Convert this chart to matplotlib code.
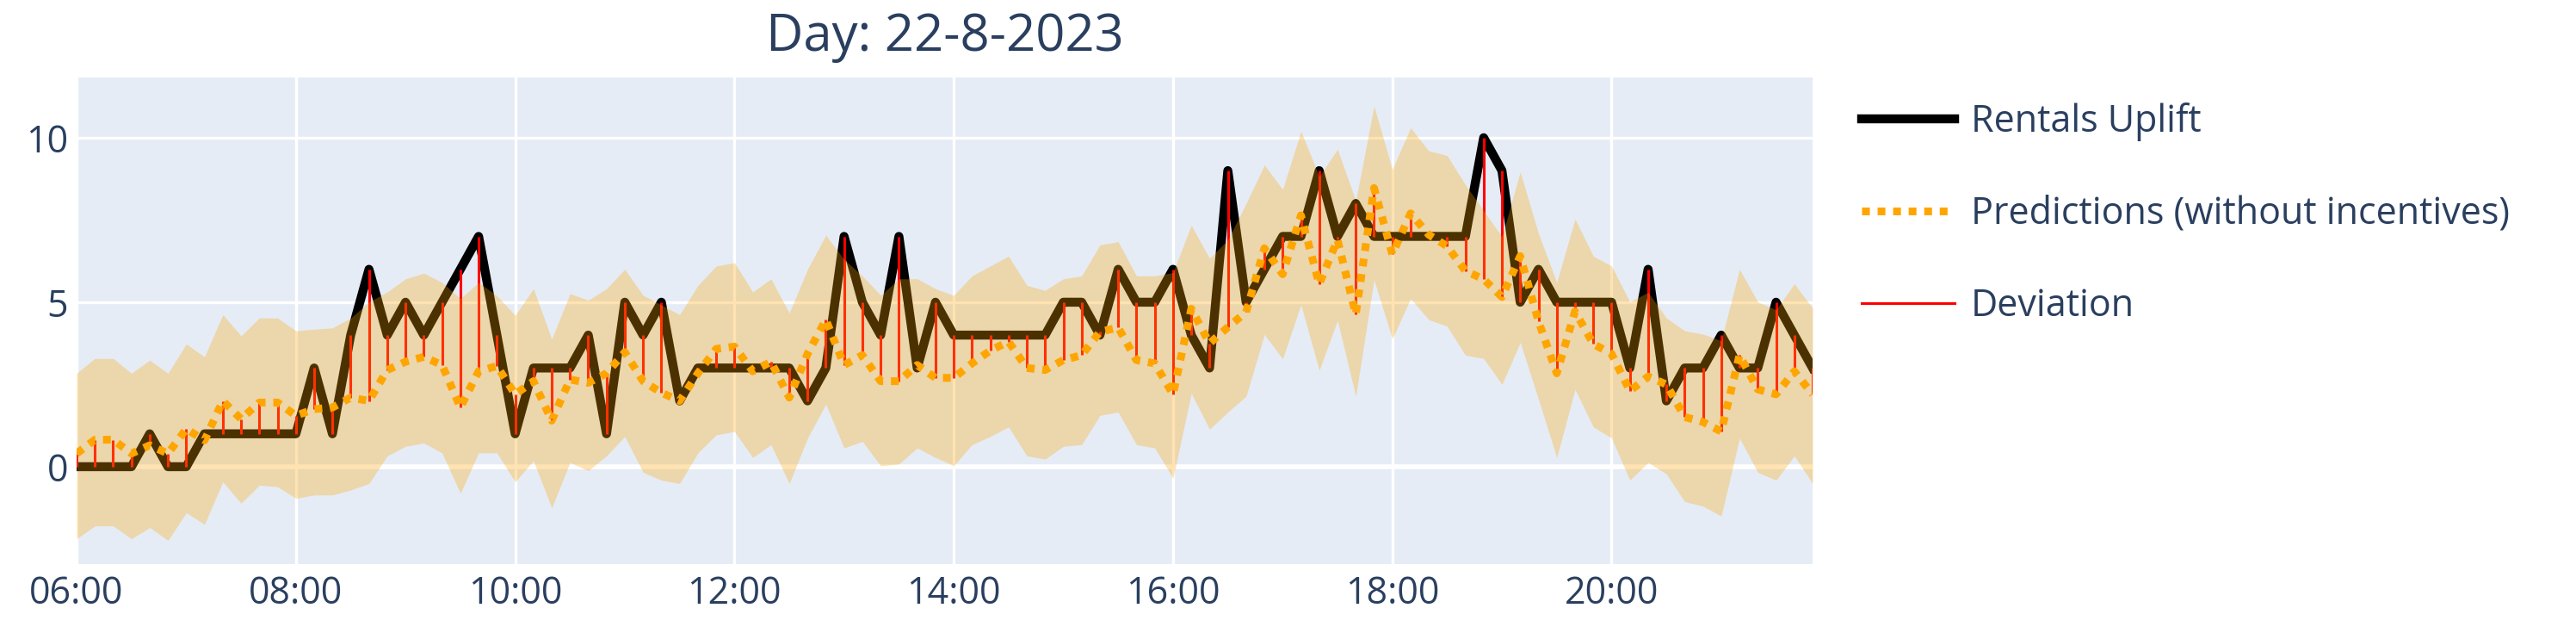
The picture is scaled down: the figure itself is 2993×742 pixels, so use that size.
import matplotlib
matplotlib.use("Agg")
import matplotlib.pyplot as plt
import matplotlib.dates as mdates
import pandas as pd

# 10-minute slots, 06:00 .. 21:50
times = pd.date_range("2023-08-22 06:00", periods=96, freq="10min")

rentals = [0, 0, 0, 0, 1, 0, 0, 1, 1, 1, 1, 1, 1,
           3, 1, 4, 6, 4, 5, 4, 5, 6, 7, 4, 1,
           3, 3, 3, 4, 1, 5, 4, 5, 2, 3, 3, 3,
           3, 3, 3, 2, 3, 7, 5, 4, 7, 3, 5, 4,
           4, 4, 4, 4, 4, 5, 5, 4, 6, 5, 5, 6,
           4, 3, 9, 5, 6, 7, 7, 9, 7, 8, 7, 7,
           7, 7, 7, 7, 10, 9, 5, 6, 5, 5, 5, 5,
           3, 6, 2, 3, 3, 4, 3, 3, 5, 4, 3]

predictions = [0.4, 0.82, 0.82, 0.4, 0.65, 0.4, 1.15, 0.8, 2.0, 1.45, 1.95, 1.95, 1.55,
               1.75, 1.8, 2.1, 2.0, 2.94, 3.19, 3.34, 3.09, 1.8, 2.9, 3.06, 2.2,
               2.6, 1.4, 2.65, 2.55, 2.84, 3.48, 2.6, 2.25, 2.0, 2.84, 3.58, 3.65,
               2.9, 3.19, 2.1, 3.43, 4.47, 3.09, 3.39, 2.6, 2.6, 3.09, 2.7, 2.7,
               3.14, 3.53, 3.8, 3.0, 2.94, 3.24, 3.39, 4.1, 4.23, 3.24, 3.14, 2.2,
               4.8, 3.75, 4.24, 4.7, 6.64, 5.85, 7.64, 5.55, 6.9, 4.63, 8.47, 6.46,
               7.7, 7.05, 6.7, 5.95, 5.7, 5.16, 6.4, 4.42, 2.84, 4.72, 3.73, 3.43,
               2.3, 2.74, 2.5, 1.51, 1.36, 1.07, 3.39, 2.35, 2.2, 2.9, 2.2]

upper = [2.84, 3.29, 3.29, 2.84, 3.24, 2.84, 3.73, 3.34, 4.62, 3.98, 4.52, 4.52, 4.13,
         4.18, 4.22, 4.52, 5.01, 5.31, 5.71, 5.88, 5.6, 5.11, 5.6, 5.2, 4.6,
         5.41, 3.88, 5.26, 5.06, 5.41, 6.0, 5.21, 4.92, 4.62, 5.51, 6.1, 6.2,
         5.31, 5.71, 4.67, 6.0, 7.04, 6.3, 5.8, 5.21, 5.71, 5.71, 5.41, 5.21,
         5.8, 6.1, 6.4, 5.51, 5.36, 5.71, 5.8, 6.74, 6.84, 5.8, 5.8, 5.9,
         7.34, 6.33, 6.9, 8.0, 9.17, 8.43, 10.2, 8.82, 9.65, 8.08, 10.96, 9.04,
         10.3, 9.6, 9.46, 8.57, 7.78, 6.99, 8.96, 7.09, 5.6, 7.53, 6.4, 6.1,
         5.01, 5.3, 4.52, 4.13, 4.03, 3.83, 6.0, 5.01, 4.77, 5.56, 4.82]

lower = [-2.19, -1.8, -1.8, -2.19, -1.85, -2.24, -1.4, -1.75, -0.46, -1.11, -0.56, -0.61, -0.96,
         -0.86, -0.86, -0.71, -0.51, 0.33, 0.62, 0.72, 0.42, -0.81, 0.42, 0.42, -0.46,
         0.18, -1.25, 0.13, -0.12, 0.33, 0.92, -0.17, -0.41, -0.51, 0.42, 0.97, 1.07,
         0.28, 0.67, -0.51, 0.87, 1.9, 0.57, 0.77, 0.03, 0.08, 0.57, 0.28, 0.03,
         0.67, 0.92, 1.21, 0.33, 0.23, 0.62, 0.67, 1.56, 1.66, 0.67, 0.57, -0.35,
         2.23, 1.14, 1.66, 2.14, 4.02, 3.28, 4.93, 2.93, 4.45, 2.14, 5.68, 3.89,
         5.11, 4.47, 4.27, 3.39, 3.29, 2.5, 3.78, 2.05, 0.28, 2.35, 1.21, 0.87,
         -0.41, 0.13, -0.22, -1.06, -1.2, -1.5, 0.87, -0.17, -0.41, 0.33, -0.51]

TXT = "#2a3f5f"
plt.rcParams["font.family"] = ["Open Sans", "DejaVu Sans"]

W, H = 2993, 742
fig = plt.figure(figsize=(W / 100, H / 100), dpi=100)
ax = fig.add_axes([89 / W, 1 - 655 / H, (2106 - 89) / W, (655 - 90) / H])
ax.set_facecolor("#E5ECF6")

ax.plot(times, rentals, color="black", lw=7.5, label="Rentals Uplift",
        solid_joinstyle="round", zorder=2)
ax.vlines(times, predictions, rentals, color="red", lw=2.2, zorder=3)
ax.plot([], [], color="red", lw=2.2, label="Deviation")
ax.fill_between(times, lower, upper, color="orange", alpha=0.3, lw=0, zorder=4)
ax.plot(times, predictions, color="orange", lw=6.5, linestyle=(0, (1, 1)),
        label="Predictions (without incentives)", zorder=5)

ax.set_xlim(times[0], times[-1])
ax.set_ylim(-2.96, 11.83)
ax.set_yticks([0, 5, 10])
ax.xaxis.set_major_locator(mdates.HourLocator(byhour=range(0, 24, 2)))
ax.xaxis.set_major_formatter(mdates.DateFormatter("%H:%M"))
ax.grid(True, color="white", lw=2.4)
ax.set_axisbelow(True)
ax.axhline(0, color="white", lw=4, zorder=1)
for s in ax.spines.values():
    s.set_visible(False)
ax.tick_params(length=0, labelsize=31, labelcolor=TXT)
ax.tick_params(axis="y", pad=7)
ax.tick_params(axis="x", pad=9)

ax.set_title("Day: 22-8-2023", fontsize=43, color=TXT, pad=22)

h, l = ax.get_legend_handles_labels()
order = [0, 2, 1]
fig.legend([h[i] for i in order], [l[i] for i in order],
           loc="upper left", bbox_to_anchor=(2163 / W, 1 - 119 / H),
           frameon=False, fontsize=31, labelcolor=TXT, handlelength=2.5,
           handletextpad=0.45, labelspacing=1.45, borderpad=0, borderaxespad=0)

fig.savefig("out.png", dpi=100)
